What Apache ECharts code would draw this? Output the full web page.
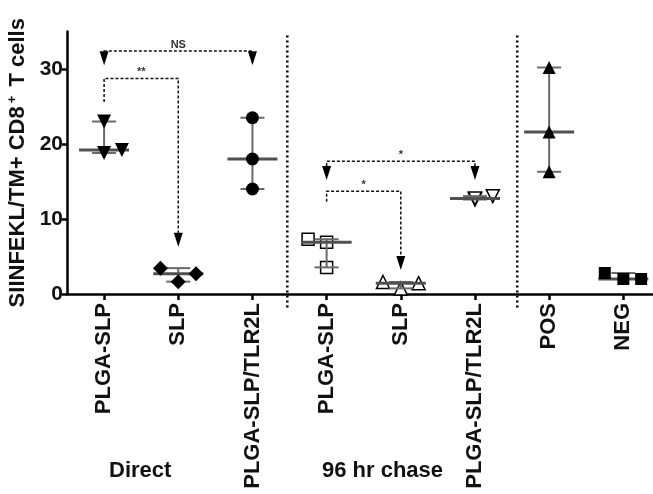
<!DOCTYPE html>
<html>
<head>
<meta charset="utf-8">
<script src="https://cdn.jsdelivr.net/npm/echarts@6/dist/echarts.min.js"></script>
<style>
html, body { margin: 0; padding: 0; background: #fff; }
#chart { width: 653px; height: 494px; }
</style>
</head>
<body>
<div id="chart"></div>
<script>
const categories = ['PLGA-SLP', 'SLP', 'PLGA-SLP/TLR2L', 'PLGA-SLP', 'SLP', 'PLGA-SLP/TLR2L', 'POS', 'NEG'];
const groupLabels = ['Direct', '96 hr chase'];
const yTicks = [0, 10, 20, 30];

// % SIINFEKL/TM+ of CD8+ T cells, one value per mouse
const plgaSlpDirect = [23.0, 18.8, 19.2];
const slpDirect = [3.45, 1.65, 2.7];
const plgaTlrDirect = [23.5, 18.0, 14.0];
const plgaSlpChase = [7.3, 6.9, 3.55];
const slpChase = [1.6, 0.75, 1.45];
const plgaTlrChase = [12.6, 12.75, 13.05];
const posCtrl = [30.2, 21.6, 16.3];
const negCtrl = [2.8, 2.0, 2.0];

// sideways spread of the dots in each column (category units)
const jitter = [
    [0, 0, 0.24],
    [-0.24, 0, 0.24],
    [0, 0, 0],
    [-0.25, 0, 0],
    [-0.24, 0, 0.24],
    [0, 0, 0.24],
    [0, 0, 0],
    [-0.25, 0, 0.24]
];

// [from, to, bar level, left end, right end, left arrow, right arrow]
const brackets = [
    [0, 2, 32.4, 30.5, 30.5, 1, 1],
    [0, 1, 28.75, 25.6, 6.3, 0, 1],
    [3, 5, 17.7, 15.2, 15.2, 1, 1],
    [3, 4, 13.7, 12.3, 3.2, 0, 1]
];
const bracketLabels = ['NS', '**', '*', '*'];

const separatorsX = [2.47, 5.57];

const groups = [plgaSlpDirect, slpDirect, plgaTlrDirect, plgaSlpChase, slpChase, plgaTlrChase, posCtrl, negCtrl];

const markers = [
    { symbol: 'triangle', rotate: 180, fill: '#000', size: 14 },
    { symbol: 'diamond', rotate: 0, fill: '#000', size: 15 },
    { symbol: 'circle', rotate: 0, fill: '#000', size: 13 },
    { symbol: 'rect', rotate: 0, fill: '#fff', size: 12 },
    { symbol: 'triangle', rotate: 0, fill: '#fff', size: 13 },
    { symbol: 'triangle', rotate: 180, fill: '#fff', size: 13 },
    { symbol: 'triangle', rotate: 0, fill: '#000', size: 13 },
    { symbol: 'rect', rotate: 0, fill: '#000', size: 12 }
];

const FONT = '"Liberation Sans", Arial, Helvetica, sans-serif';

// median + range for each column
const summary = groups.map((vals, i) => {
    const s = vals.slice().sort((a, b) => a - b);
    return [i, s[0], s[1], s[2]];
});

function renderBars(params, api) {
    const x = api.value(0);
    const lo = api.coord([x, api.value(1)]);
    const md = api.coord([x, api.value(2)]);
    const hi = api.coord([x, api.value(3)]);
    const whisker = { stroke: '#6a6a6a', lineWidth: 2 };
    return {
        type: 'group',
        children: [
            { type: 'line', shape: { x1: lo[0], y1: lo[1], x2: hi[0], y2: hi[1] }, style: whisker },
            { type: 'line', shape: { x1: lo[0] - 12, y1: lo[1], x2: lo[0] + 12, y2: lo[1] }, style: whisker },
            { type: 'line', shape: { x1: hi[0] - 12, y1: hi[1], x2: hi[0] + 12, y2: hi[1] }, style: whisker },
            { type: 'line', shape: { x1: md[0] - 25, y1: md[1], x2: md[0] + 25, y2: md[1] }, style: { stroke: '#505050', lineWidth: 3 } }
        ]
    };
}

function arrowHead(tip) {
    return {
        type: 'polygon',
        shape: { points: [[tip[0] - 4.5, tip[1] - 14], [tip[0] + 4.5, tip[1] - 14], [tip[0], tip[1]]] },
        style: { fill: '#000' }
    };
}

function renderBracket(params, api) {
    const p1 = api.coord([api.value(0), api.value(2)]);
    const p2 = api.coord([api.value(1), api.value(2)]);
    const e1 = api.coord([api.value(0), api.value(3)]);
    const e2 = api.coord([api.value(1), api.value(4)]);
    const hasL = api.value(5), hasR = api.value(6);
    const children = [{
        type: 'polyline',
        shape: { points: [[p1[0], hasL ? e1[1] - 14 : e1[1]], p1, p2, [p2[0], hasR ? e2[1] - 14 : e2[1]]] },
        style: { stroke: '#111', lineWidth: 1.5, lineDash: [3, 2], fill: null }
    }];
    if (hasL) children.push(arrowHead(e1));
    if (hasR) children.push(arrowHead(e2));
    children.push({
        type: 'text',
        x: (p1[0] + p2[0]) / 2,
        y: p1[1] - 1,
        style: {
            text: bracketLabels[params.dataIndex],
            fontSize: 11, fontWeight: 'bold', fontFamily: FONT, fill: '#333',
            align: 'center', verticalAlign: 'bottom',
            textAlign: 'center', textVerticalAlign: 'bottom'
        }
    });
    return { type: 'group', children };
}

const series = [];

separatorsX.forEach(x => {
    series.push({
        type: 'line',
        data: [[x, -1.8], [x, 34.5]],
        symbol: 'none',
        clip: false,
        silent: true,
        z: 1,
        lineStyle: { color: '#000', width: 2.5, type: [2, 3] }
    });
});

groups.forEach((vals, i) => {
    const m = markers[i];
    series.push({
        type: 'scatter',
        data: vals.map((v, k) => [i + jitter[i][k], v]),
        symbol: m.symbol,
        symbolRotate: m.rotate,
        symbolSize: m.size,
        z: m.fill === '#000' ? 4 : 2,
        itemStyle: { color: m.fill, borderColor: '#000', borderWidth: m.fill === '#000' ? 0 : 1.5, opacity: 1 },
        emphasis: { disabled: true }
    });
});

series.push({
    type: 'custom',
    renderItem: renderBars,
    data: summary,
    encode: { x: 0, y: [1, 2, 3] },
    z: 3,
    silent: true
});

series.push({
    type: 'custom',
    renderItem: renderBracket,
    data: brackets,
    encode: { x: [0, 1], y: [2, 3, 4] },
    z: 5,
    silent: true
});

const chart = echarts.init(document.getElementById('chart'));
chart.setOption({
    animation: false,
    backgroundColor: '#fff',
    grid: { left: 67, right: 0, top: 31.5, bottom: 200, containLabel: false, outerBoundsMode: 'none' },
    xAxis: {
        type: 'value',
        min: -0.5,
        max: 7.4,
        splitLine: { show: false },
        axisLine: { onZero: false, lineStyle: { color: '#000', width: 2.5 } },
        axisTick: { customValues: categories.map((c, i) => i), length: 6, lineStyle: { color: '#000', width: 2.5 } },
        axisLabel: {
            customValues: categories.map((c, i) => i),
            formatter: v => categories[Math.round(v)],
            rotate: 90,
            margin: 9,
            fontSize: 22,
            fontWeight: 'bold',
            fontFamily: FONT,
            color: '#111'
        }
    },
    yAxis: {
        type: 'value',
        min: 0,
        max: 35,
        splitLine: { show: false },
        axisLine: { show: true, onZero: false, lineStyle: { color: '#000', width: 2.5 } },
        axisTick: { show: true, customValues: yTicks, length: 5, lineStyle: { color: '#000', width: 2.5 } },
        axisLabel: { customValues: yTicks, margin: 4, fontSize: 21, fontWeight: 'bold', fontFamily: FONT, color: '#111' },
        name: '{a|SIINFEKL/TM+ CD8}{s|+}{a| T cells}',
        nameLocation: 'middle',
        nameRotate: 90,
        nameGap: 36,
        nameTextStyle: {
            rich: {
                a: { fontSize: 22, fontWeight: 'bold', fontFamily: FONT, color: '#111', lineHeight: 24 },
                s: { fontSize: 13, fontWeight: 'bold', fontFamily: FONT, color: '#111', lineHeight: 24, verticalAlign: 'top', padding: [0, 3, 0, 3] }
            }
        }
    },
    graphic: [
        { type: 'text', left: 109, top: 460, style: { text: groupLabels[0], fontSize: 22, fontWeight: 'bold', fontFamily: FONT, fill: '#111' } },
        { type: 'text', left: 322, top: 460, style: { text: groupLabels[1], fontSize: 22, fontWeight: 'bold', fontFamily: FONT, fill: '#111' } }
    ],
    series
});
</script>
</body>
</html>
